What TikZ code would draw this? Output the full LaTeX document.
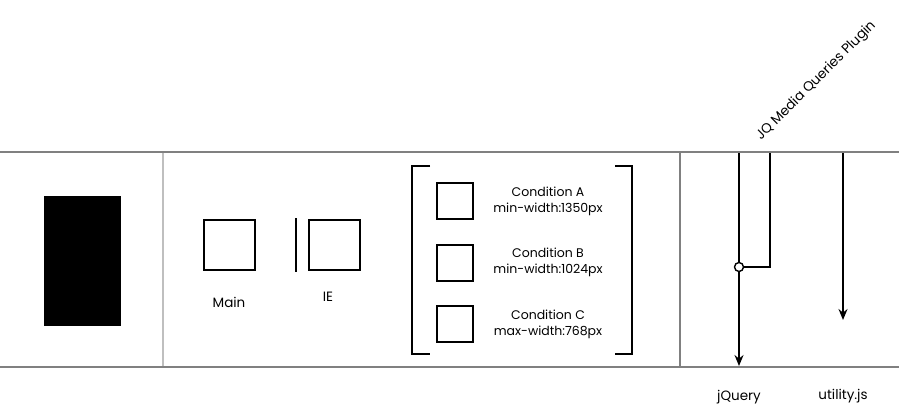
\documentclass[tikz,border=0pt]{standalone}
\usepackage{fontspec}
\setmainfont{Poppins}
\usetikzlibrary{arrows.meta, calc}
\definecolor{railGray}{rgb}{0.5, 0.5, 0.5}
\definecolor{splitGray}{rgb}{0.75, 0.75, 0.75}

\begin{document}
\begin{tikzpicture}[x=1pt, y=-1pt,
    rail/.style={draw=railGray, line width=2pt},
    split/.style={draw=splitGray, line width=1.5pt},
    frame/.style={draw=black, line width=2.6pt},
    bracket/.style={draw=black, line width=2pt},
    wire/.style={draw=black, line width=1.6pt},
    label/.style={font=\fontsize{13.5}{16}\selectfont, inner sep=0pt},
    cond/.style={font=\fontsize{12.5}{16}\selectfont, align=center, inner sep=0pt}]

  \useasboundingbox (0,0) rectangle (899,410);

  \coordinate (TL) at (0,152);
  \coordinate (TR) at (899,152);
  \coordinate (BL) at (0,367);
  \coordinate (BR) at (899,367);

  % rails and dividers
  \draw[rail] (TL) -- (TR);
  \draw[rail] (BL) -- (BR);
  \draw[split] (163,153) -- (163,366);
  \draw[rail, line width=1.5pt] (680,153) -- (680,366);

  % page block
  \fill[black] (44,196) rectangle (121,326);

  % main and IE
  \draw[frame] (204,220) rectangle (255,270);
  \node[label] (main) at (229,302) {Main};
  \draw[line width=2.4pt] (296,218) -- (296,272);
  \draw[frame] (309,220) rectangle (360,270);
  \node[label] (ie) at (328,297) {IE};

  % conditions
  \draw[bracket] (430,166) -- (412,166) -- (412,354) -- (430,354);
  \draw[bracket] (615,166) -- (632,166) -- (632,354) -- (615,354);

  \draw[frame] (437,183) rectangle (473,219);
  \draw[frame] (437,245) rectangle (473,281);
  \draw[frame] (437,306) rectangle (473,342);
  \node[cond] (condA) at (548,201) {Condition A\\min-width:1350px};
  \node[cond] (condB) at (548,262) {Condition B\\min-width:1024px};
  \node[cond] (condC) at (548,324) {Condition C\\max-width:768px};

  % scripts
  \coordinate (jqTop) at (739,153);
  \coordinate (jqEnd) at (739,366);
  \coordinate (utTop) at (843,153);
  \coordinate (utEnd) at (843,320);
  \coordinate (plTop) at (770,153);
  \coordinate (plTurn) at (770,267);
  \node[circle, draw=black, fill=white, line width=1.4pt, minimum size=9pt, inner sep=0pt] (join) at (739,267) {};

  \draw[wire] (jqTop) -- (join);
  \draw[wire, -{Stealth[length=11pt, width=9pt]}] (join) -- (jqEnd);
  \draw[wire] (plTop) -- (plTurn) -- (join);
  \draw[wire, -{Stealth[length=11pt, width=9pt]}] (utTop) -- (utEnd);

  \node[label, rotate=45, anchor=base west] (plugin) at (761,141) {JQ Media Queries Plugin};
  \node[label] (jquery) at (739,397) {jQuery};
  \node[label] (utility) at (843,396) {utility.js};

\end{tikzpicture}
\end{document}
